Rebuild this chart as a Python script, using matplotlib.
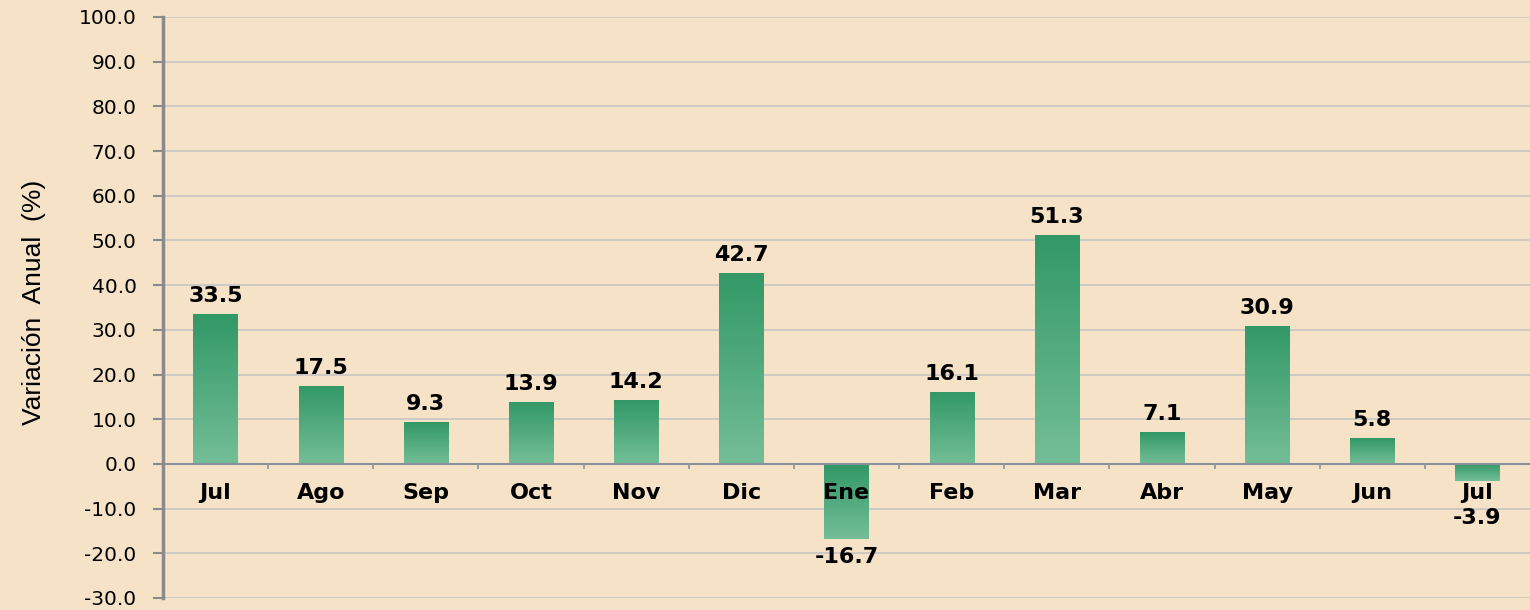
import numpy as np
import matplotlib.pyplot as plt
from matplotlib.colors import LinearSegmentedColormap

months = ['Jul', 'Ago', 'Sep', 'Oct', 'Nov', 'Dic', 'Ene', 'Feb', 'Mar', 'Abr', 'May', 'Jun', 'Jul']
variacion = [33.5, 17.5, 9.3, 13.9, 14.2, 42.7, -16.7, 16.1, 51.3, 7.1, 30.9, 5.8, -3.9]

bg = '#f5e2c7'
green_cmap = LinearSegmentedColormap.from_list('verde', ['#74be98', '#329866'])

fig = plt.figure(figsize=(15.3, 6.1), dpi=100, facecolor=bg)
ax = fig.add_axes([0.1065, 0.0197, 0.8935, 0.9525])
ax.set_facecolor(bg)

x = np.arange(len(months))
bars = ax.bar(x, variacion, width=0.42, color='none', edgecolor='none', zorder=3)

# relleno degradado: oscuro arriba, claro abajo
grad = np.linspace(0, 1, 256).reshape(-1, 1)
for b, v in zip(bars, variacion):
    x0 = b.get_x()
    x1 = x0 + b.get_width()
    img = ax.imshow(grad, cmap=green_cmap, origin='lower', aspect='auto',
                    extent=[x0, x1, min(v, 0), max(v, 0)], zorder=3)
    img.set_clip_path(b)

# etiquetas de valor
for xi, v in zip(x, variacion):
    if v >= 0:
        ax.annotate(f'{v:.1f}', (xi, v), xytext=(0, 13), textcoords='offset points',
                    ha='center', va='center', fontsize=16, fontweight='bold',
                    family='DejaVu Sans', zorder=5)
    else:
        ax.annotate(f'{v:.1f}', (xi, min(v, -8)), xytext=(0, -13), textcoords='offset points',
                    ha='center', va='center', fontsize=16, fontweight='bold',
                    family='DejaVu Sans', zorder=5)

# nombres de meses bajo la linea cero
for xi, m in zip(x, months):
    ax.text(xi, -6.6, m, ha='center', va='center', fontsize=16, fontweight='bold',
            family='DejaVu Sans', zorder=5)

ax.set_xlim(-0.5, len(months) - 0.5)
ax.set_ylim(-30, 100)
ax.set_yticks(np.arange(-30, 101, 10))
ax.set_yticklabels([f'{t:.1f}' for t in np.arange(-30, 101, 10)],
                   fontsize=14.5, family='DejaVu Sans')
ax.tick_params(axis='y', length=7, width=1.5, color='#8a8a8a', pad=12)

ax.set_xticks([])
ax.grid(axis='y', color='#c2c3c6', linewidth=1.1, zorder=1)
ax.set_axisbelow(True)

# linea cero con marcas entre categorias
ax.axhline(0, color='#8a9099', linewidth=1.5, zorder=4)
for b in np.arange(0.5, len(months) - 0.5, 1):
    ax.plot([b, b], [0, -1.0], color='#9098a0', linewidth=1.3, zorder=4)

for s in ['top', 'right', 'bottom']:
    ax.spines[s].set_visible(False)
ax.spines['left'].set_color('#8a8a8a')
ax.spines['left'].set_linewidth(2.5)

fig.text(0.022, 0.505, 'Variación  Anual  (%)', rotation=90, ha='center', va='center',
         fontsize=19, family='Liberation Sans')

plt.savefig('out.png', dpi=100, facecolor=bg)
